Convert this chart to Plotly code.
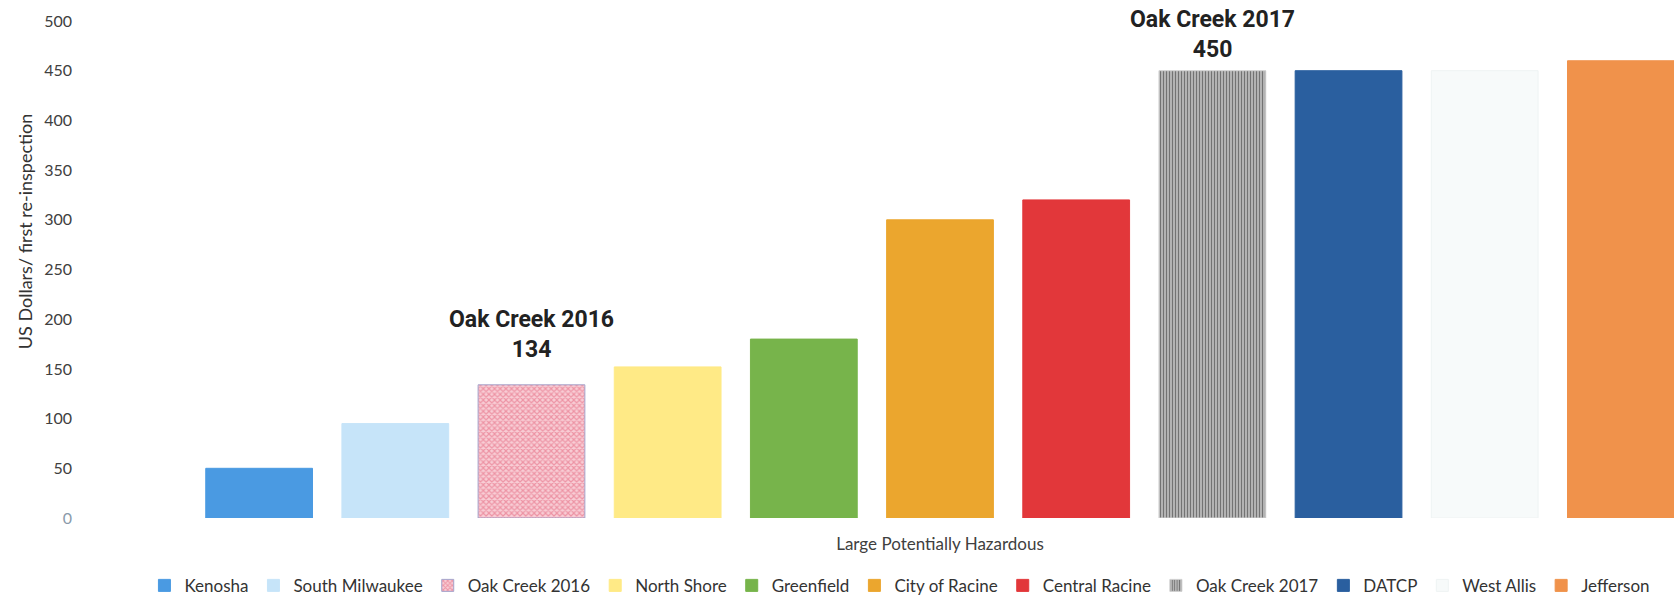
import plotly.graph_objects as go

category = ["Large Potentially Hazardous"]
series_names = ["Kenosha", "South Milwaukee", "Oak Creek 2016", "North Shore", "Greenfield",
                "City of Racine", "Central Racine", "Oak Creek 2017", "DATCP", "West Allis", "Jefferson"]
series_values = [50, 95, 134, 152, 180, 300, 320, 450, 450, 450, 460]
y_ticks = [0, 50, 100, 150, 200, 250, 300, 350, 400, 450, 500]
y_tick_text = ["<span style='color:#8a9aaa'>0</span>"] + [str(v) for v in y_ticks[1:]]

colors = ["#4a9ae2", "#c6e4f9", "#f6c3cc", "#ffea86", "#77b44b",
          "#eba62e", "#e2373a", "#d8d8d8", "#2a5f9f", "#f7fafa", "#f0924b"]
line_colors = ["#4a9ae2", "#c6e4f9", "#a4a4cc", "#ffea86", "#77b44b",
               "#eba62e", "#e2373a", "#d0d0d0", "#2a5f9f", "#eef3f3", "#f0924b"]
patterns = {2: dict(shape="x", fgcolor="#e25a73", bgcolor="#f8cdd5", size=4, solidity=0.5),
            7: dict(shape="|", fgcolor="#1e1e1e", bgcolor="#c8c8c8", size=3, solidity=0.5)}

fig = go.Figure()
for i, name in enumerate(series_names):
    marker = dict(color=colors[i], line=dict(color=line_colors[i], width=1))
    if i in patterns:
        marker["pattern"] = patterns[i]
    fig.add_trace(go.Bar(name=name, x=category, y=[series_values[i]], marker=marker,
                         cliponaxis=True, hoverinfo="name+y"))

n = len(series_names)

def bar_center(i):
    return -0.5 + (i + 0.5) / n

for i, shift in [(2, 50), (7, 36)]:
    fig.add_annotation(x=bar_center(i), y=series_values[i], xref="x", yref="y",
                       text="<b>%s<br>%d</b>" % (series_names[i], series_values[i]),
                       showarrow=False, yanchor="middle", yshift=shift,
                       font=dict(family="Roboto", size=23, color="#222222"))

fig.add_annotation(text="US Dollars/ first re-inspection", textangle=-90,
                   xref="paper", yref="paper", x=0, y=0.577, xanchor="center", yanchor="middle",
                   xshift=-51, showarrow=False,
                   font=dict(family="Lato", size=18, color="#333333"))

fig.update_layout(
    width=1674, height=598,
    margin=dict(l=76, r=0, t=21, b=80, pad=0, autoexpand=False),
    paper_bgcolor="white", plot_bgcolor="white",
    barmode="group", bargap=0, bargroupgap=0.216,
    font=dict(family="Lato", size=15, color="#404040"),
    showlegend=True,
    legend=dict(orientation="h", x=0.5156, xanchor="center", y=-0.1365, yanchor="middle",
                font=dict(family="Lato", size=17, color="#333333"), traceorder="normal",
                itemwidth=30),
    xaxis=dict(range=[-0.5768, 0.49], showgrid=False, zeroline=False, showline=False,
               ticks="", tickfont=dict(family="Lato", size=17, color="#404040"),
               ticklabelstandoff=14, automargin=False),
    yaxis=dict(range=[0, 500], tickvals=y_ticks, ticktext=y_tick_text, showgrid=False,
               zeroline=False, showline=False, ticklabelstandoff=3, automargin=False,
               ticks="", tickfont=dict(family="Lato", size=16, color="#404040")),
)

fig.write_html("out.html")
